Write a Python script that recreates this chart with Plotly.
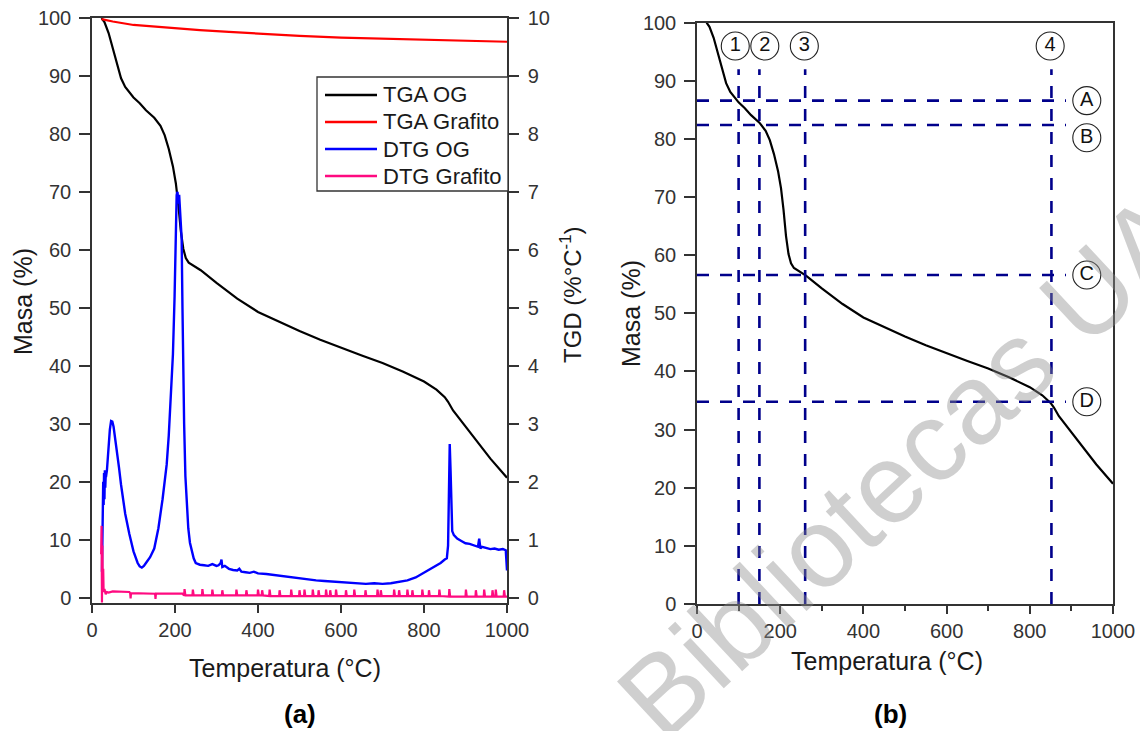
import plotly.graph_objects as go

FONT = "Liberation Sans, Arial, sans-serif"
W, H = 1140, 731

# ---- TGA: mass (%) vs temperature (°C) ----
tga_og_T = [23, 30, 40, 50, 60, 70, 80, 90, 100, 115, 130, 150, 165, 175, 185, 195, 202, 208,
            214, 220, 226, 233, 245, 262, 300, 350, 400, 450, 500, 550, 600, 650, 700, 750,
            800, 830, 850, 858, 870, 900, 930, 960, 1000]
tga_og_m = [100, 99.3, 97.4, 94.8, 92.0, 89.6, 88.1, 87.1, 86.3, 85.3, 84.1, 82.8, 81.4, 79.8,
            77.4, 74.4, 71.5, 67.8, 63.3, 60.2, 58.6, 57.8, 57.2, 56.5, 54.3, 51.6, 49.3, 47.6,
            46.0, 44.5, 43.1, 41.8, 40.5, 39.0, 37.3, 35.9, 34.6, 33.8, 32.3, 29.5, 26.7, 24.0,
            20.7]

tga_gr_T = [23, 50, 100, 150, 200, 260, 330, 400, 500, 600, 700, 800, 900, 1000]
tga_gr_m = [99.8, 99.4, 98.8, 98.5, 98.2, 97.9, 97.6, 97.3, 96.9, 96.6, 96.4, 96.2, 96.0, 95.9]

# ---- DTG: derivative (%/°C) vs temperature (°C) ----
dtg_og_T = [24, 25, 26, 27, 28, 29, 30, 31, 32, 33, 34, 36, 38, 40, 43, 46, 49, 52, 55, 60, 65,
            70, 80, 90, 100, 110, 115, 120, 125, 130, 140, 150, 160, 170, 180, 185, 190, 195,
            199, 202, 204, 206, 208, 210, 212, 214, 216, 218, 220, 222, 225, 228, 232, 236, 240,
            245, 250, 260, 270, 280, 290, 300, 305, 310, 312, 314, 320, 330, 340, 350, 355, 360,
            370, 380, 390, 400, 420, 440, 460, 480, 500, 520, 540, 560, 580, 600, 620, 640, 660,
            680, 700, 720, 740, 760, 780, 800, 810, 820, 830, 840, 850, 855, 858, 860, 862, 864,
            866, 868, 872, 880, 890, 900, 910, 920, 930, 933, 936, 940, 950, 960, 970, 980, 990,
            997, 1000]
dtg_og_v = [0.45, 1.5, 1.2, 2.0, 1.6, 2.15, 1.7, 2.2, 1.9, 2.1, 2.1, 2.2, 2.45, 2.7, 2.9, 3.05,
            3.04, 2.95, 2.8, 2.55, 2.25, 1.95, 1.45, 1.1, 0.8, 0.6, 0.54, 0.52, 0.55, 0.6, 0.7,
            0.85, 1.2, 1.7, 2.3, 2.8, 3.4, 4.2, 5.2, 6.2, 6.95, 7.0, 6.8, 6.95, 6.6, 6.35, 6.2,
            5.0, 3.8, 3.0, 2.1, 1.6, 1.2, 0.95, 0.8, 0.68, 0.6, 0.57, 0.56, 0.55, 0.58, 0.55,
            0.56, 0.6, 0.66, 0.53, 0.55, 0.5, 0.48, 0.47, 0.5, 0.45, 0.44, 0.43, 0.45, 0.42,
            0.41, 0.39, 0.38, 0.36, 0.34, 0.31, 0.3, 0.29, 0.28, 0.27, 0.26, 0.25, 0.24, 0.25,
            0.24, 0.25, 0.27, 0.3, 0.35, 0.43, 0.48, 0.52, 0.56, 0.6, 0.66, 0.68, 0.9, 2.0, 2.65,
            2.2, 1.3, 1.15, 1.08, 1.02, 0.98, 0.94, 0.93, 0.9, 0.88, 1.02, 0.85, 0.88, 0.86, 0.84,
            0.85, 0.83, 0.84, 0.82, 0.47]

dtg_gr_T = [22, 23, 24, 25, 26, 27, 28, 30, 33, 36, 40, 50, 60, 70, 80, 90, 92, 93, 94, 120,
            150, 152, 153, 154, 190, 218,
            222, 223, 225, 242, 243, 245, 265, 266, 268, 289, 290, 292, 313, 314, 316,
            347, 348, 350, 371, 372, 374, 399, 400, 402, 409, 410, 412, 427, 428, 430,
            451, 452, 454, 479, 480, 482, 499, 500, 502, 511, 512, 514, 531, 532, 534,
            545, 546, 548, 563, 564, 566, 573, 574, 576, 587, 588, 590, 611, 612, 614,
            631, 632, 634, 658, 659, 661, 687, 688, 690, 695, 696, 698, 727, 728, 730,
            739, 740, 742, 759, 760, 762, 771, 772, 774, 795, 796, 798, 811, 812, 814,
            836, 837, 839, 860, 861, 863, 900, 901, 903, 924, 925, 927, 944, 945, 947,
            964, 965, 967, 972, 973, 975, 992, 993, 995, 1000]
dtg_gr_v = [0.75, 1.24, -0.08, 0.9, 0.2, 0.5, 0.1, 0.15, 0.06, 0.1, 0.09, 0.11, 0.11, 0.11, 0.1,
            0.1, 0.08, -0.01, 0.08, 0.08, 0.07, 0.07, -0.02, 0.07, 0.07, 0.07,
            0.04, 0.15, 0.04, 0.04, 0.14, 0.04, 0.04, 0.15, 0.04, 0.04, 0.14, 0.04, 0.04, 0.13, 0.04,
            0.04, 0.14, 0.04, 0.04, 0.13, 0.04, 0.04, 0.14, 0.04, 0.04, 0.13, 0.04, 0.03, 0.14, 0.03,
            0.03, 0.13, 0.03, 0.03, 0.14, 0.03, 0.03, 0.13, 0.03, 0.03, 0.14, 0.03, 0.03, 0.14, 0.03,
            0.03, 0.13, 0.03, 0.03, 0.14, 0.03, 0.03, 0.13, 0.03, 0.03, 0.14, 0.03, 0.03, 0.13, 0.03,
            0.03, 0.14, 0.03, 0.03, 0.13, 0.03, 0.03, 0.14, 0.03, 0.03, 0.13, 0.03, 0.03, 0.14, 0.03,
            0.03, 0.13, 0.03, 0.03, 0.14, 0.03, 0.03, 0.13, 0.03, 0.03, 0.14, 0.03, 0.03, 0.13, 0.03,
            0.03, 0.14, 0.03, 0.02, 0.15, 0.02, 0.02, 0.14, 0.02, 0.02, 0.13, 0.02, 0.02, 0.14, 0.02,
            0.02, 0.13, 0.02, 0.02, 0.14, 0.02, 0.02, 0.13, 0.02, 0.02]

# ---- characteristic points of the OG mass-loss curve ----
stage_T = [100, 150, 260, 852]
stage_names = ["1", "2", "3", "4"]
level_m = [86.6, 82.4, 56.6, 34.8]
level_names = ["A", "B", "C", "D"]

# marker-label placement (layout only)
stage_label_T = [92, 163, 258, 849]
stage_label_m = 96
level_label_T = 937
level_label_m = [86.6, 80.2, 56.6, 34.8]
guide_top = 92
guide_right = 887

AXIS_COLOR = "#333333"
TICK_FONT = dict(family=FONT, size=20, color="#333333")
TITLE_FONT = dict(family=FONT, size=25, color="#1a1a1a")
GUIDE = dict(color="#00008b", width=2.6, dash="12px,11px")


def px_x(p):
    return p / W


def px_y(p):
    return 1 - p / H


# series of panel (a): (T, value, name, colour, width, y-axis)
panel_a = [
    (tga_og_T, tga_og_m, "TGA OG", "#000000", 2.2, "y"),
    (tga_gr_T, tga_gr_m, "TGA Grafito", "#ff0000", 2.2, "y"),
    (dtg_og_T, dtg_og_v, "DTG OG", "#0000ff", 2.4, "y2"),
    (dtg_gr_T, dtg_gr_v, "DTG Grafito", "#ff0a80", 2.2, "y2"),
]

fig = go.Figure()

for xs, ys, name, color, width, yax in panel_a:
    fig.add_trace(go.Scatter(x=xs, y=ys, name=name, mode="lines", showlegend=False,
                             line=dict(color=color, width=width), xaxis="x", yaxis=yax))

# panel (b)
fig.add_trace(go.Scatter(x=tga_og_T, y=tga_og_m, mode="lines", showlegend=False,
                         line=dict(color="#000000", width=2.2), xaxis="x3", yaxis="y3"))
for t in stage_T:
    fig.add_trace(go.Scatter(x=[t, t], y=[0, guide_top], mode="lines", showlegend=False,
                             line=GUIDE, xaxis="x3", yaxis="y3"))
for m in level_m:
    fig.add_trace(go.Scatter(x=[0, guide_right], y=[m, m], mode="lines", showlegend=False,
                             line=GUIDE, xaxis="x3", yaxis="y3"))

circle_marker = dict(symbol="circle-open", size=28, color="#222222", line=dict(width=1.1, color="#222222"))
fig.add_trace(go.Scatter(x=stage_label_T, y=[stage_label_m] * len(stage_names), text=stage_names,
                         mode="markers+text", textposition="middle center",
                         textfont=dict(family=FONT, size=20, color="#111111"),
                         marker=circle_marker, showlegend=False, cliponaxis=False,
                         xaxis="x3", yaxis="y3"))
fig.add_trace(go.Scatter(x=[level_label_T] * len(level_names), y=level_label_m, text=level_names,
                         mode="markers+text", textposition="middle center",
                         textfont=dict(family=FONT, size=20, color="#111111"),
                         marker=circle_marker, showlegend=False, cliponaxis=False,
                         xaxis="x3", yaxis="y3"))

axis_common = dict(showline=True, linecolor=AXIS_COLOR, linewidth=1.5, showgrid=False,
                   zeroline=False, ticks="outside", tickcolor=AXIS_COLOR, tickwidth=1.5,
                   tickfont=TICK_FONT, automargin=False)

fig.update_layout(
    width=W, height=H, margin=dict(l=0, r=0, t=0, b=0, autoexpand=False),
    paper_bgcolor="white", plot_bgcolor="white",
    font=dict(family=FONT), showlegend=False,
    xaxis=dict(domain=[px_x(92), px_x(507)], range=[0, 1000], tick0=0, dtick=200, ticklen=8,
               mirror=True, anchor="y", **axis_common),
    yaxis=dict(domain=[px_y(603), px_y(18)], range=[-0.9, 100], tick0=0, dtick=10, ticklen=11,
               ticklabelstandoff=4, anchor="x", **axis_common),
    yaxis2=dict(overlaying="y", side="right", range=[-0.09, 10], tick0=0, dtick=1, ticklen=10,
                ticklabelstandoff=5, anchor="x", **axis_common),
    xaxis3=dict(domain=[px_x(697), px_x(1113)], range=[0, 1000], tick0=0, dtick=200, ticklen=8,
                minor=dict(ticks="outside", ticklen=5, dtick=100, tickcolor=AXIS_COLOR, tickwidth=1.5),
                mirror=True, anchor="y3", **axis_common),
    yaxis3=dict(domain=[px_y(604), px_y(22.7)], range=[0, 100], tick0=0, dtick=10, ticklen=11,
                ticklabelstandoff=4, mirror=True, anchor="x3", **axis_common),
)

# boxed key for panel (a)
key_box = (317, 77, 508, 191)
key_rows = [95, 122, 149, 176]
shapes = [dict(type="rect", xref="paper", yref="paper",
               x0=px_x(key_box[0]), x1=px_x(key_box[2]), y0=px_y(key_box[3]), y1=px_y(key_box[1]),
               line=dict(color=AXIS_COLOR, width=1.3), fillcolor="white", layer="above")]
annotations = []
for (xs, ys, name, color, width, yax), row in zip(panel_a, key_rows):
    shapes.append(dict(type="line", xref="paper", yref="paper", x0=px_x(325), x1=px_x(377),
                       y0=px_y(row), y1=px_y(row), line=dict(color=color, width=2.6), layer="above"))
    annotations.append(dict(text=name, x=px_x(381), y=px_y(row), xanchor="left", yanchor="middle",
                            font=dict(family=FONT, size=22, color="#1a1a1a")))
fig.update_layout(shapes=shapes)

annotations += [
    dict(text="Masa (%)", x=px_x(23), y=px_y(302), textangle=-90, font=TITLE_FONT),
    dict(text="TGD (%°C<sup>-1</sup>)", x=px_x(571), y=px_y(295), textangle=-90,
         font=dict(family=FONT, size=24, color="#1a1a1a")),
    dict(text="Temperatura (°C)", x=px_x(285), y=px_y(668), font=TITLE_FONT),
    dict(text="<b>(a)</b>", x=px_x(300), y=px_y(714), font=dict(family=FONT, size=26, color="#000")),
    dict(text="Masa (%)", x=px_x(631), y=px_y(314), textangle=-90, font=TITLE_FONT),
    dict(text="Temperatura (°C)", x=px_x(887), y=px_y(661), font=TITLE_FONT),
    dict(text="<b>(b)</b>", x=px_x(890), y=px_y(714), font=dict(family=FONT, size=26, color="#000")),
    dict(text="Bibliotecas UA", x=px_x(905), y=px_y(466), textangle=-43,
         font=dict(family=FONT, size=113, color="rgba(140,140,140,0.42)")),
]
for a in annotations:
    a.setdefault("xanchor", "center")
    a.setdefault("yanchor", "middle")
    a.update(xref="paper", yref="paper", showarrow=False)
fig.update_layout(annotations=annotations)

fig.write_html("out.html")
